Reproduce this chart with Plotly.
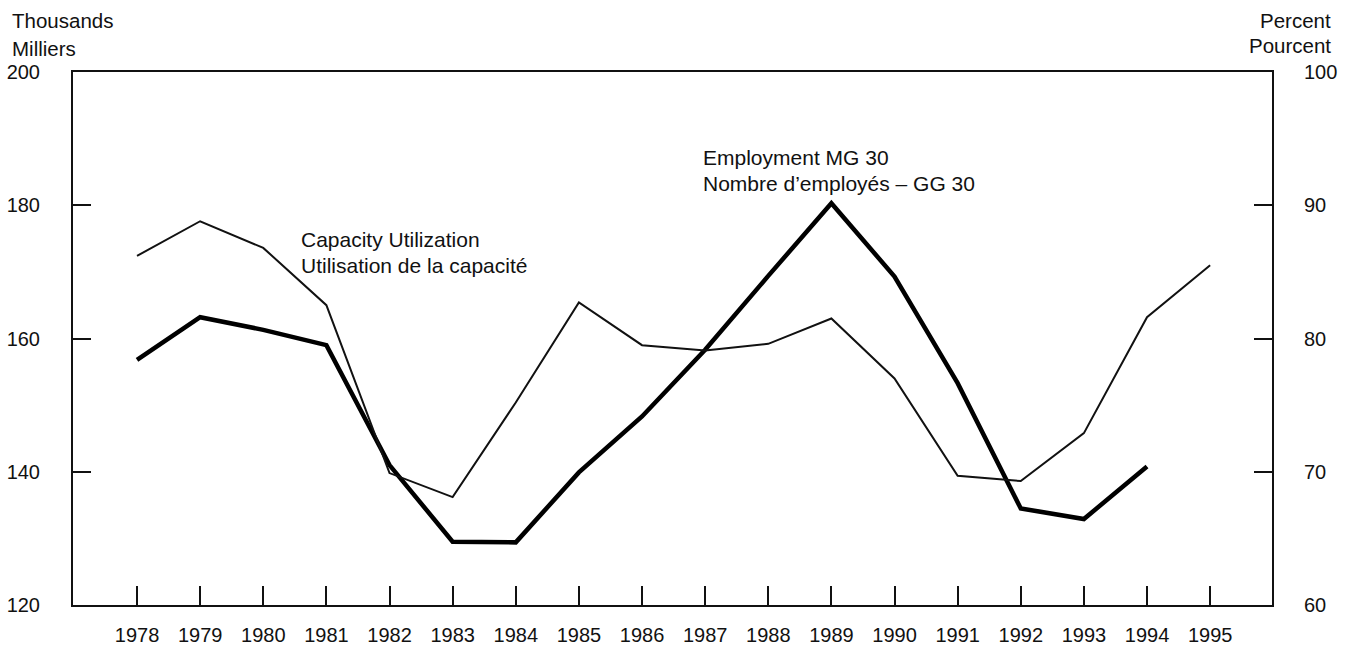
import plotly.graph_objects as go

years_emp = list(range(1978, 1995))
employment = [156.8, 163.2, 161.3, 159.0, 141.0, 129.5, 129.4, 139.9, 148.3,
              158.3, 169.4, 180.3, 169.3, 153.3, 134.5, 132.9, 140.8]

years_cap = list(range(1978, 1996))
capacity = [86.2, 88.8, 86.8, 82.5, 69.9, 68.1, 75.2, 82.7, 79.5, 79.1,
            79.6, 81.5, 77.0, 69.7, 69.3, 72.9, 81.6, 85.5]

left_ticks = [120, 140, 160, 180, 200]
right_ticks = [60, 70, 80, 90, 100]
x_ticks = list(range(1978, 1996))

FONT = "Liberation Sans, Arial, sans-serif"
FS = 20
FS_LABEL = 21
TXT = "#111111"

fig = go.Figure()
fig.add_trace(go.Scatter(x=years_cap, y=capacity, mode="lines", yaxis="y2",
                         line=dict(color="#111111", width=2), showlegend=False,
                         name="Capacity Utilization"))
fig.add_trace(go.Scatter(x=years_emp, y=employment, mode="lines", yaxis="y",
                         line=dict(color="#000000", width=4.5), showlegend=False,
                         name="Employment"))

L, R, T, B = 73, 77, 72, 41.5
W, H = 1349, 647
pw = W - L - R
ph = H - T - B

def px2paper_x(px):
    return (px - L) / pw

def py2paper_y(py):
    return (H - B - py) / ph

annotations = [
    dict(text="Thousands", x=px2paper_x(10), y=py2paper_y(20), xanchor="left"),
    dict(text="Milliers", x=px2paper_x(10), y=py2paper_y(48), xanchor="left"),
    dict(text="Percent", x=px2paper_x(1333), y=py2paper_y(20), xanchor="right"),
    dict(text="Pourcent", x=px2paper_x(1333), y=py2paper_y(45), xanchor="right"),
]
for a in annotations:
    a.update(xref="paper", yref="paper", yanchor="middle", showarrow=False,
             font=dict(family=FONT, size=20.5, color=TXT))

series_labels = [
    ("Capacity Utilization", 1980.567, 174.8),
    ("Utilisation de la capacité", 1980.567, 170.9),
    ("Employment MG 30", 1986.935, 187.1),
    ("Nombre d\u2019employés \u2013 GG 30", 1986.935, 183.2),
]
for text, xv, yv in series_labels:
    annotations.append(dict(text=text, x=xv, y=yv, xref="x", yref="y",
                            xanchor="left", yanchor="middle", showarrow=False,
                            font=dict(family=FONT, size=FS_LABEL, color=TXT)))

fig.update_layout(
    width=W, height=H,
    margin=dict(l=L, r=R, t=T, b=B, pad=0, autoexpand=False),
    paper_bgcolor="white", plot_bgcolor="white",
    font=dict(family=FONT, size=FS, color=TXT),
    annotations=annotations,
    xaxis=dict(range=[1976.986, 1995.98], tickmode="array", tickvals=x_ticks,
               ticktext=[str(y) for y in x_ticks], ticks="inside", ticklen=19,
               tickwidth=2, tickcolor="#111", showline=True, linewidth=2,
               linecolor="#111", mirror=True, showgrid=False, zeroline=False,
               ticklabelstandoff=11, automargin=False),
    yaxis=dict(range=[120, 200], tickmode="array", tickvals=left_ticks,
               ticks="inside", ticklen=18, tickwidth=2, tickcolor="#111",
               showline=True, linewidth=2, linecolor="#111", showgrid=False,
               zeroline=False, ticklabelstandoff=27, automargin=False),
    yaxis2=dict(range=[60, 100], tickmode="array", tickvals=right_ticks,
                overlaying="y", side="right", ticks="inside", ticklen=18,
                tickwidth=2, tickcolor="#111", showline=True, linewidth=2,
                linecolor="#111", showgrid=False, zeroline=False,
                ticklabelstandoff=26, automargin=False),
)

fig.write_html("out.html", config={"displayModeBar": False},
               post_script="document.body.style.margin='0';document.body.style.overflow='hidden';")
